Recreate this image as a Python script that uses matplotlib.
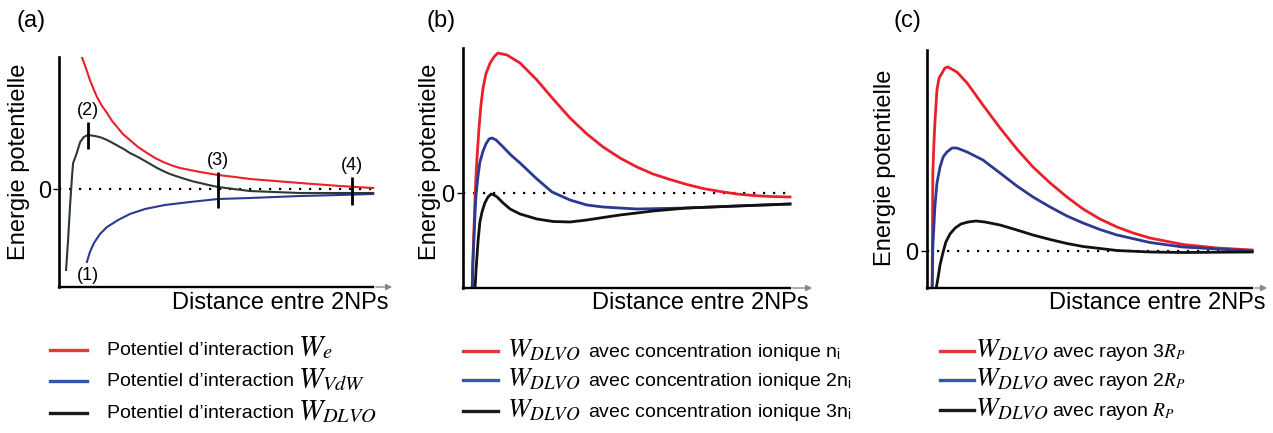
import numpy as np
import matplotlib
matplotlib.use('Agg')
import matplotlib.pyplot as plt
from matplotlib.lines import Line2D

plt.rcParams['font.family'] = ['Liberation Sans', 'DejaVu Sans']
plt.rcParams['mathtext.fontset'] = 'stix'

# ---- panel (a): potentials W_e, W_VdW, W_DLVO (arbitrary units)
a_red_x = [0.68, 0.80, 0.92, 1.04, 1.13, 1.28, 1.43, 1.58, 1.73, 1.90, 2.11, 2.35, 2.62, 2.86, 3.10,
           3.36, 3.60, 3.90, 4.20, 4.73, 5.24, 5.68, 6.43, 7.17, 8.36, 9.35]
a_red_y = [13.2, 12.1, 10.9, 9.9, 9.2, 8.3, 7.6, 6.8, 6.2, 5.5, 4.9, 4.2, 3.6, 3.1, 2.7,
           2.35, 2.1, 1.9, 1.7, 1.4, 1.2, 1.0, 0.8, 0.6, 0.3, 0.1]
a_blk_x = [0.21, 0.27, 0.33, 0.39, 0.42, 0.51, 0.63, 0.74, 0.86, 1.07, 1.25, 1.43, 1.60, 1.76, 1.95,
           2.11, 2.35, 2.56, 2.74, 2.92, 3.10, 3.30, 3.52, 3.75, 4.00, 4.20, 4.45, 4.73, 5.20,
           5.68, 6.40, 7.17, 9.35]
a_blk_y = [-8.1, -5.1, -1.6, 1.4, 2.6, 3.4, 4.7, 5.2, 5.4, 5.3, 5.15, 4.9, 4.6, 4.3, 3.95,
           3.6, 3.2, 2.8, 2.45, 2.1, 1.8, 1.5, 1.25, 1.0, 0.75, 0.6, 0.4, 0.2, 0.0,
           -0.2, -0.3, -0.4, -0.4]
a_blu_x = [0.83, 0.92, 1.04, 1.22, 1.43, 1.76, 2.11, 2.56, 3.15, 3.90, 4.73, 5.68, 7.17, 8.36, 9.35]
a_blu_y = [-7.3, -6.3, -5.4, -4.5, -3.8, -3.1, -2.5, -2.0, -1.6, -1.3, -1.0, -0.9, -0.7, -0.6, -0.5]
a_mark_labels = ['(2)', '(3)', '(4)']
a_mark_x = [0.86, 4.73, 8.72]
a_mark_lo = [4.0, -1.9, -1.6]
a_mark_hi = [6.7, 1.7, 1.2]

# ---- panel (b): W_DLVO for ionic concentration n_i, 2n_i, 3n_i
b_red_x = [0.26, 0.28, 0.31, 0.34, 0.37, 0.40, 0.45, 0.51, 0.57, 0.65, 0.77, 0.88, 0.99, 1.25, 1.62,
           2.10, 2.56, 3.04, 3.52, 3.98, 4.46, 4.94, 5.40, 5.88, 6.36, 6.82, 7.30, 7.78, 8.24, 8.72, 9.29]
b_red_y = [-9.7, -6.7, -3.7, -0.7, 1.8, 3.6, 6.3, 8.8, 10.5, 11.9, 13.0, 13.6, 14.0, 13.8, 13.0,
           11.3, 9.4, 7.5, 5.9, 4.6, 3.5, 2.6, 1.9, 1.35, 0.85, 0.45, 0.15, -0.1, -0.25, -0.35, -0.4]
b_blu_x = [0.26, 0.28, 0.31, 0.34, 0.37, 0.43, 0.48, 0.57, 0.65, 0.74, 0.82, 0.94, 1.14, 1.36, 1.62,
           2.10, 2.53, 3.04, 3.52, 3.98, 4.94, 6.36, 7.78, 9.29]
b_blu_y = [-9.7, -7.2, -4.7, -2.2, -0.2, 1.8, 3.1, 4.2, 4.9, 5.4, 5.5, 5.3, 4.6, 3.8, 3.0,
           1.4, 0.1, -0.7, -1.2, -1.4, -1.6, -1.5, -1.3, -1.1]
b_blk_x = [0.34, 0.37, 0.40, 0.43, 0.48, 0.54, 0.62, 0.71, 0.80, 0.88, 0.97, 1.14, 1.34, 1.62, 2.10,
           2.56, 3.04, 3.52, 3.98, 4.46, 4.94, 5.40, 6.36, 7.78, 9.29]
b_blk_y = [-9.7, -7.7, -6.2, -4.7, -2.9, -1.9, -1.0, -0.4, -0.1, -0.2, -0.4, -1.0, -1.6, -2.1, -2.6,
           -2.85, -2.9, -2.7, -2.45, -2.2, -2.0, -1.8, -1.5, -1.3, -1.1]

# ---- panel (c): W_DLVO for radius 3R_P, 2R_P, R_P
c_red_x = [0.15, 0.16, 0.17, 0.20, 0.23, 0.29, 0.35, 0.44, 0.52, 0.61, 0.87, 1.17, 1.63, 2.13, 2.62,
           3.09, 3.59, 4.08, 4.55, 5.04, 5.54, 6.01, 6.50, 7.46, 8.46, 9.48]
c_red_y = [-3.9, 2.1, 7.8, 10.6, 12.8, 16.1, 17.3, 17.8, 18.3, 18.4, 17.9, 16.8, 14.6, 12.3, 10.2,
           8.4, 6.8, 5.4, 4.2, 3.2, 2.4, 1.8, 1.3, 0.65, 0.3, 0.1]
c_blu_x = [0.15, 0.17, 0.23, 0.29, 0.38, 0.47, 0.58, 0.73, 0.87, 1.17, 1.63, 2.13, 2.62, 3.09, 3.59,
           4.08, 4.55, 5.04, 5.54, 6.50, 7.46, 8.46, 9.48]
c_blu_y = [-3.9, 0.4, 4.4, 6.8, 8.4, 9.4, 9.9, 10.3, 10.3, 9.9, 9.1, 7.8, 6.5, 5.4, 4.4,
           3.5, 2.8, 2.15, 1.6, 0.85, 0.4, 0.2, 0.0]
c_blk_x = [0.26, 0.32, 0.38, 0.47, 0.55, 0.67, 0.82, 0.99, 1.20, 1.43, 1.69, 2.13, 2.62, 3.09, 3.59,
           4.08, 4.55, 5.54, 6.50, 7.46, 9.48]
c_blk_y = [-3.9, -2.7, -1.4, -0.1, 0.9, 1.7, 2.3, 2.7, 2.9, 3.0, 2.9, 2.6, 2.1, 1.6, 1.15,
           0.75, 0.45, 0.05, -0.1, -0.15, -0.1]

legend_a = ["Potentiel d\u2019interaction"] * 3
legend_a_math = ['$W_e$', '$W_{VdW}$', '$W_{DLVO}$']
legend_b = ['avec concentration ionique n$_\\mathregular{i}$',
            'avec concentration ionique 2n$_\\mathregular{i}$',
            'avec concentration ionique 3n$_\\mathregular{i}$']
legend_c = ['avec rayon 3$R_P$', 'avec rayon 2$R_P$', 'avec rayon $R_P$']

RED, BLUE, BLACK = '#e8212b', '#2b3990', '#111111'
LEG_COLORS = ['#e03a3a', '#2f5ca8', '#1a1a1a']

W, H = 1273, 433
fig = plt.figure(figsize=(W / 100, H / 100), dpi=100)


def px_box(l, t, r, b):
    return [l / W, 1 - b / H, (r - l) / W, (b - t) / H]


def fx(x):
    return x / W


def fy(y):
    return 1 - y / H


def setup(ax, ylim, xend, pad):
    ax.set_xlim(0, 10)
    ax.set_ylim(*ylim)
    ax.patch.set_alpha(0)
    for s in ['top', 'right']:
        ax.spines[s].set_visible(False)
    ax.spines['left'].set_linewidth(1.9)
    ax.spines['bottom'].set_linewidth(1.7)
    ax.spines['bottom'].set_bounds(0, xend)
    ax.set_xticks([])
    ax.set_yticks([0])
    ax.set_yticklabels(['0'], fontsize=17)
    ax.tick_params(axis='y', length=4, width=1, pad=pad)
    ax.hlines(0, 0, xend, colors='black', linestyles=(0, (1, 3.5)), lw=1.6)
    ax.annotate('', xy=(10, ylim[0]), xytext=(xend, ylim[0]),
                arrowprops=dict(arrowstyle='-|>', color='#888888', lw=1, mutation_scale=9),
                annotation_clip=False)


# panel (a)
ax1 = fig.add_axes(px_box(59, 57, 395, 287))
setup(ax1, (-9.8, 13.2), 9.35, 1.5)
ax1.plot(a_red_x, a_red_y, color=RED, lw=1.5)
ax1.plot(a_blu_x, a_blu_y, color=BLUE, lw=1.5)
ax1.plot(a_blk_x, a_blk_y, color='#2b3a31', lw=1.5)
ax1.vlines(a_mark_x, a_mark_lo, a_mark_hi, colors='black', lw=2)
for lab, x, hi in zip(a_mark_labels, a_mark_x, a_mark_hi):
    ax1.text(x, hi + 0.3, lab, fontsize=13, ha='center', va='bottom')
ax1.text(a_blk_x[0] + 0.65, a_blk_y[0] - 0.6, '(1)', fontsize=13, ha='center', va='center')

# panel (b)
ax2 = fig.add_axes(px_box(463, 48, 815, 288))
setup(ax2, (-9.5, 14.5), 9.29, 2)
ax2.plot(b_red_x, b_red_y, color=RED, lw=2)
ax2.plot(b_blu_x, b_blu_y, color=BLUE, lw=2)
ax2.plot(b_blk_x, b_blk_y, color=BLACK, lw=2)

# panel (c)
ax3 = fig.add_axes(px_box(927, 50, 1270, 288))
setup(ax3, (-3.7, 20.1), 9.48, 2)
ax3.plot(c_red_x, c_red_y, color=RED, lw=2)
ax3.plot(c_blu_x, c_blu_y, color=BLUE, lw=2)
ax3.plot(c_blk_x, c_blk_y, color=BLACK, lw=2)

# panel letters and axis titles
for lab, x in zip(['(a)', '(b)', '(c)'], [31, 441, 907]):
    fig.text(fx(x), fy(21), lab, fontsize=17, ha='center', va='center')
for x, y in zip([19, 430, 885], [162, 162, 168]):
    fig.text(fx(x), fy(y), 'Energie potentielle', fontsize=17, rotation=90,
             ha='center', va='center')
for x in [280, 700, 1157]:
    fig.text(fx(x), fy(303), 'Distance entre 2NPs', fontsize=17, ha='center', va='center')

# legends
rows_a = [350, 381, 413]
for i, y in enumerate(rows_a):
    fig.add_artist(Line2D([fx(50), fx(87)], [fy(y), fy(y)], color=LEG_COLORS[i], lw=2.4))
    fig.text(fx(107), fy(y + 5), legend_a[i], fontsize=14, va='baseline')
    fig.text(fx(298), fy(y + 5), legend_a_math[i], fontsize=21, va='baseline')

rows_b = [351, 380, 411]
for i, y in enumerate(rows_b):
    fig.add_artist(Line2D([fx(463), fx(498)], [fy(y), fy(y)], color=LEG_COLORS[i], lw=2.4))
    fig.text(fx(507), fy(y + 6), '$W_{DLVO}$', fontsize=19.5, va='baseline')
    fig.text(fx(588), fy(y + 6), legend_b[i], fontsize=14, va='baseline')

rows_c = [351, 380, 410]
for i, y in enumerate(rows_c):
    fig.add_artist(Line2D([fx(940), fx(974)], [fy(y), fy(y)], color=LEG_COLORS[i], lw=2.4))
    fig.text(fx(975), fy(y + 6), '$W_{DLVO}$', fontsize=19.5, va='baseline')
    fig.text(fx(1052), fy(y + 6), legend_c[i], fontsize=14, va='baseline')

fig.savefig('out.png', dpi=100)
